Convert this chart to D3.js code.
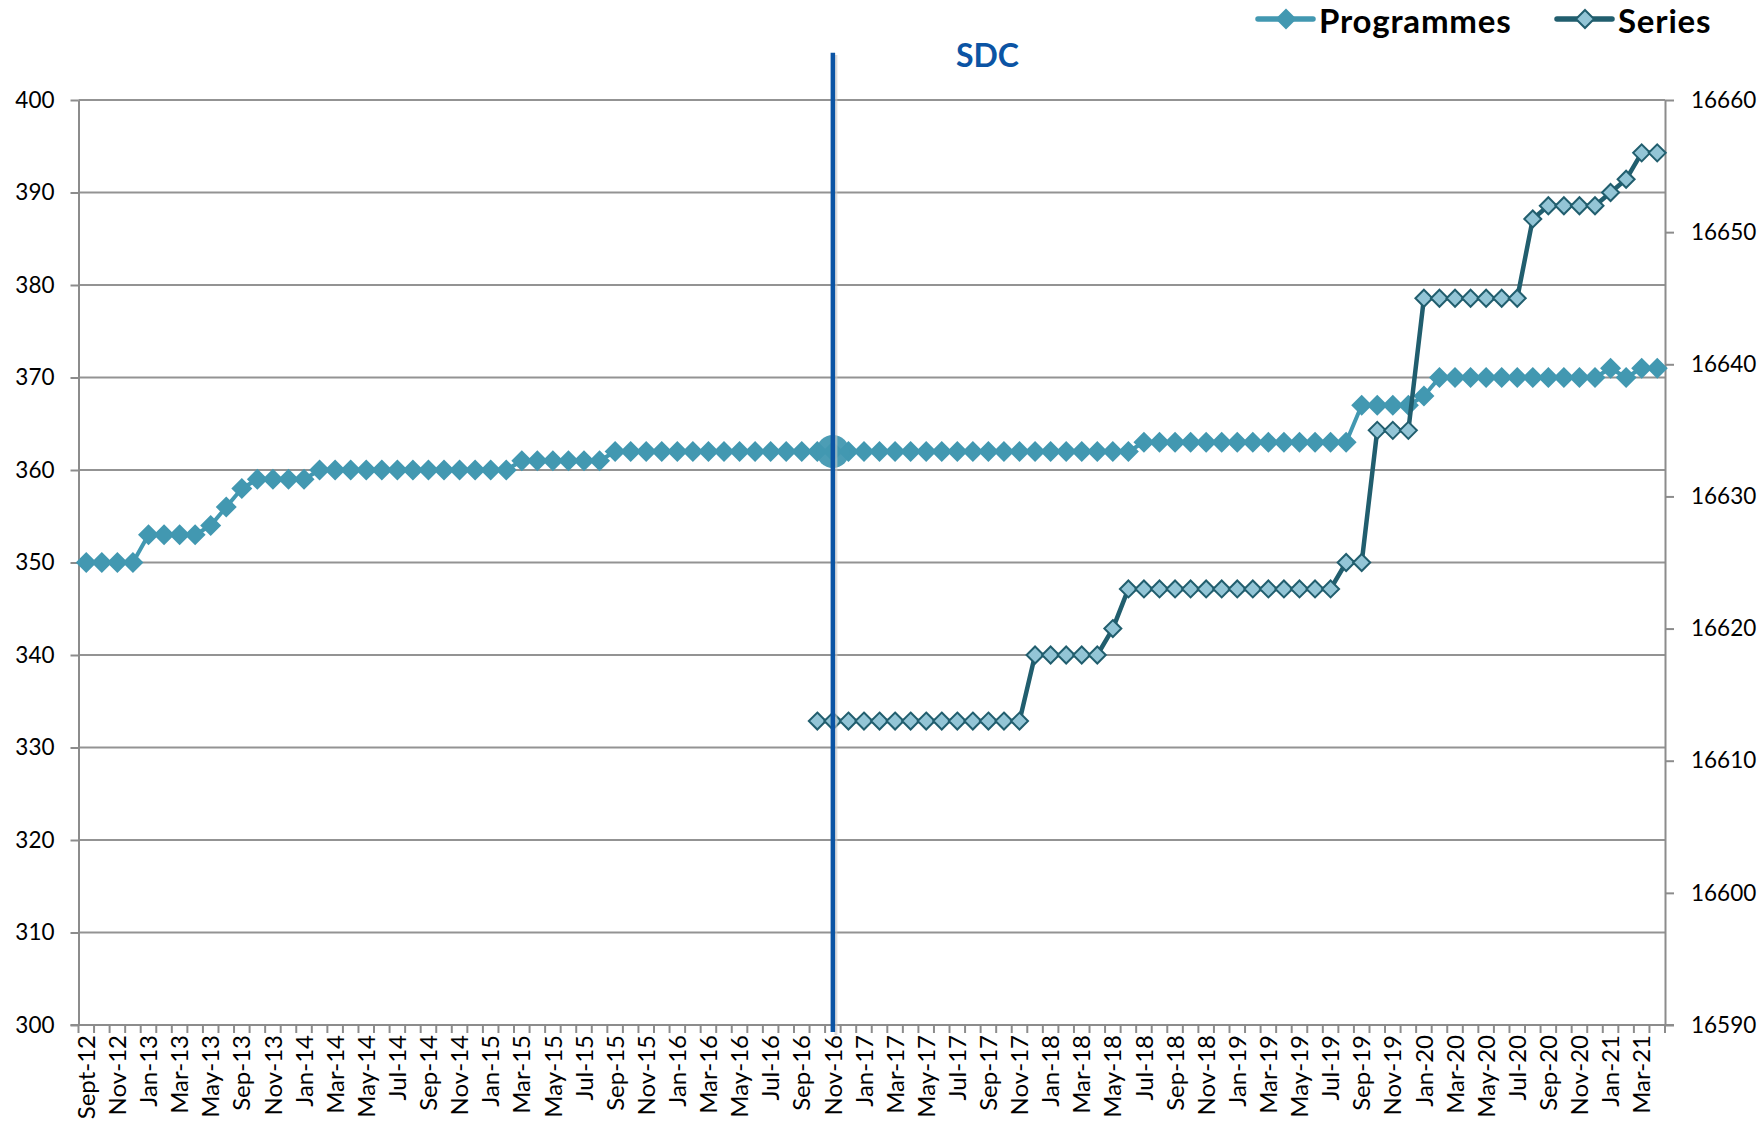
<!DOCTYPE html>
<html><head><meta charset="utf-8">
<script src="https://cdn.jsdelivr.net/npm/d3@7"></script>
<style>body{margin:0;background:#fff}svg{display:block}text{font-family:Lato, "Open Sans", sans-serif}</style>
</head><body><svg id="c" width="1764" height="1132"></svg>
<script>
const categories = ["Sept-12","Oct-12","Nov-12","Dec-12","Jan-13","Feb-13","Mar-13","Apr-13","May-13","Jul-13",
"Sep-13","Oct-13","Nov-13","Dec-13","Jan-14","Feb-14","Mar-14","Apr-14","May-14","Jun-14",
"Jul-14","Aug-14","Sep-14","Oct-14","Nov-14","Dec-14","Jan-15","Feb-15","Mar-15","Apr-15",
"May-15","Jun-15","Jul-15","Aug-15","Sep-15","Oct-15","Nov-15","Dec-15","Jan-16","Feb-16",
"Mar-16","Apr-16","May-16","Jun-16","Jul-16","Aug-16","Sep-16","Oct-16","Nov-16","Dec-16",
"Jan-17","Feb-17","Mar-17","Apr-17","May-17","Jun-17","Jul-17","Aug-17","Sep-17","Oct-17",
"Nov-17","Dec-17","Jan-18","Feb-18","Mar-18","Apr-18","May-18","Jun-18","Jul-18","Aug-18",
"Sep-18","Oct-18","Nov-18","Dec-18","Jan-19","Feb-19","Mar-19","Apr-19","May-19","Jun-19",
"Jul-19","Aug-19","Sep-19","Oct-19","Nov-19","Dec-19","Jan-20","Feb-20","Mar-20","Apr-20",
"May-20","Jun-20","Jul-20","Aug-20","Sep-20","Oct-20","Nov-20","Dec-20","Jan-21","Feb-21",
"Mar-21","Apr-21"];
const programmes = [350,350,350,350,353,353,353,353,354,356,
358,359,359,359,359,360,360,360,360,360,
360,360,360,360,360,360,360,360,361,361,
361,361,361,361,362,362,362,362,362,362,
362,362,362,362,362,362,362,362,362,362,
362,362,362,362,362,362,362,362,362,362,
362,362,362,362,362,362,362,362,363,363,
363,363,363,363,363,363,363,363,363,363,
363,363,367,367,367,367,368,370,370,370,
370,370,370,370,370,370,370,370,371,370,
371,371];
const series = [null,null,null,null,null,null,null,null,null,null,
null,null,null,null,null,null,null,null,null,null,
null,null,null,null,null,null,null,null,null,null,
null,null,null,null,null,null,null,null,null,null,
null,null,null,null,null,null,null,16613,16613,16613,
16613,16613,16613,16613,16613,16613,16613,16613,16613,16613,
16613,16618,16618,16618,16618,16618,16620,16623,16623,16623,
16623,16623,16623,16623,16623,16623,16623,16623,16623,16623,
16623,16625,16625,16635,16635,16635,16645,16645,16645,16645,
16645,16645,16645,16651,16652,16652,16652,16652,16653,16654,
16656,16656];
const leftTicks = [300,310,320,330,340,350,360,370,380,390,400];
const rightTicks = [16590,16600,16610,16620,16630,16640,16650,16660];
const seriesNames = ["Programmes","Series"];
const eventCategory = "Nov-16";
const eventLabel = "SDC";

const C = {prog:"#4298b1", ser:"#215e6e", serFill:"#93c5d6", event:"#0b54a4", grid:"#939393", axis:"#8c8c8c"};
const L = 78.5, R = 1665, T = 100, B = 1025;

const svg = d3.select("#c");
const x = d3.scaleBand().domain(categories).range([L, R]).padding(0);
const bw = x.bandwidth();
const cx = c => x(c) + bw / 2;
const yL = d3.scaleLinear().domain([300, 400]).range([B, T]);
const yR = d3.scaleLinear().domain([16590, 16660]).range([B, T]);

// gridlines
svg.append("g").selectAll("line").data(leftTicks.filter(v => v !== 300)).join("line")
  .attr("x1", L).attr("x2", R).attr("y1", d => yL(d)).attr("y2", d => yL(d))
  .attr("stroke", C.grid).attr("stroke-width", 2);

// left axis
const gl = svg.append("g").attr("transform", `translate(${L},0)`)
  .call(d3.axisLeft(yL).tickValues(leftTicks).tickFormat(d3.format("d")).tickSize(8).tickPadding(16).tickSizeOuter(0));
// right axis
const gr = svg.append("g").attr("transform", `translate(${R},0)`)
  .call(d3.axisRight(yR).tickValues(rightTicks).tickFormat(d3.format("d")).tickSize(9).tickPadding(17).tickSizeOuter(0));
[gl, gr].forEach(g => {
  g.select(".domain").attr("stroke", C.axis).attr("stroke-width", 2);
  g.selectAll(".tick line").attr("stroke", C.axis).attr("stroke-width", 2);
  g.selectAll(".tick text").attr("font-size", 22.5).attr("fill", "#000").attr("font-family", "Lato");
});

// bottom axis line + ticks at band boundaries
svg.append("line").attr("x1", L - 8).attr("x2", R + 9).attr("y1", B).attr("y2", B)
  .attr("stroke", C.axis).attr("stroke-width", 2);
const boundaries = categories.map(c => x(c)).concat([x(categories[categories.length - 1]) + bw]);
svg.append("g").selectAll("line").data(boundaries).join("line")
  .attr("x1", d => d).attr("x2", d => d).attr("y1", B).attr("y2", B + 8)
  .attr("stroke", C.axis).attr("stroke-width", 2);
svg.append("g").selectAll("text").data(categories.filter((c, i) => i % 2 === 0)).join("text")
  .attr("transform", d => `translate(${cx(d)},1035) rotate(-90)`)
  .attr("text-anchor", "end").attr("dy", "0.36em").attr("font-size", 24).attr("fill", "#000")
  .text(d => d);

const diamond = r => `M0,${-r}L${r},0L0,${r}L${-r},0Z`;

// Programmes
const progData = categories.map((c, i) => ({c, v: programmes[i]}));
svg.append("path").datum(progData)
  .attr("d", d3.line().x(d => cx(d.c)).y(d => yL(d.v)))
  .attr("fill", "none").attr("stroke", C.prog).attr("stroke-width", 4).attr("stroke-linejoin", "round");
svg.append("g").selectAll("path").data(progData).join("path")
  .attr("transform", d => `translate(${cx(d.c)},${yL(d.v)})`)
  .attr("d", diamond(10.5)).attr("fill", C.prog);

// Series
const serData = categories.map((c, i) => ({c, v: series[i]}));
svg.append("path").datum(serData)
  .attr("d", d3.line().defined(d => d.v !== null).x(d => cx(d.c)).y(d => yR(d.v)))
  .attr("fill", "none").attr("stroke", C.ser).attr("stroke-width", 4.5).attr("stroke-linejoin", "round");
svg.append("g").selectAll("path").data(serData.filter(d => d.v !== null)).join("path")
  .attr("transform", d => `translate(${cx(d.c)},${yR(d.v)})`)
  .attr("d", diamond(8.5)).attr("fill", C.serFill).attr("stroke", C.ser).attr("stroke-width", 2);

// highlighted point at event
const evIdx = categories.indexOf(eventCategory);
svg.append("circle").attr("cx", cx(eventCategory)).attr("cy", yL(programmes[evIdx]))
  .attr("r", 16.5).attr("fill", C.prog).attr("opacity", 0.95);

// event line
svg.append("line").attr("x1", cx(eventCategory) + 3).attr("x2", cx(eventCategory) + 3)
  .attr("y1", 55).attr("y2", 1035).attr("stroke", "#c8c8c8").attr("stroke-width", 3).attr("opacity", 0.6);
svg.append("line").attr("x1", cx(eventCategory)).attr("x2", cx(eventCategory))
  .attr("y1", 52.7).attr("y2", 1032).attr("stroke", C.event).attr("stroke-width", 4.5);
svg.append("text").attr("x", 987.5).attr("y", 67).attr("text-anchor", "middle")
  .attr("font-size", 32).attr("font-weight", 700).attr("fill", C.event).text(eventLabel);

// legend
const leg = [
  {name: seriesNames[0], x0: 1258, color: C.prog, fill: C.prog, r: 10.5, sw: 0},
  {name: seriesNames[1], x0: 1557, color: C.ser, fill: C.serFill, r: 9, sw: 2}
];
const lg = svg.append("g").selectAll("g").data(leg).join("g")
  .attr("transform", d => `translate(${d.x0},19)`);
lg.append("line").attr("x1", 0).attr("x2", 55).attr("stroke", d => d.color)
  .attr("stroke-width", 5.5).attr("stroke-linecap", "round");
lg.append("path").attr("transform", "translate(28,0)").attr("d", d => diamond(d.r))
  .attr("fill", d => d.fill).attr("stroke", d => d.sw ? d.color : "none").attr("stroke-width", d => d.sw);
lg.append("text").attr("x", 61).attr("y", 13.5).attr("font-size", 33).attr("font-weight", 700)
  .attr("letter-spacing", 0.8).attr("fill", "#000").text(d => d.name);
</script></body></html>
